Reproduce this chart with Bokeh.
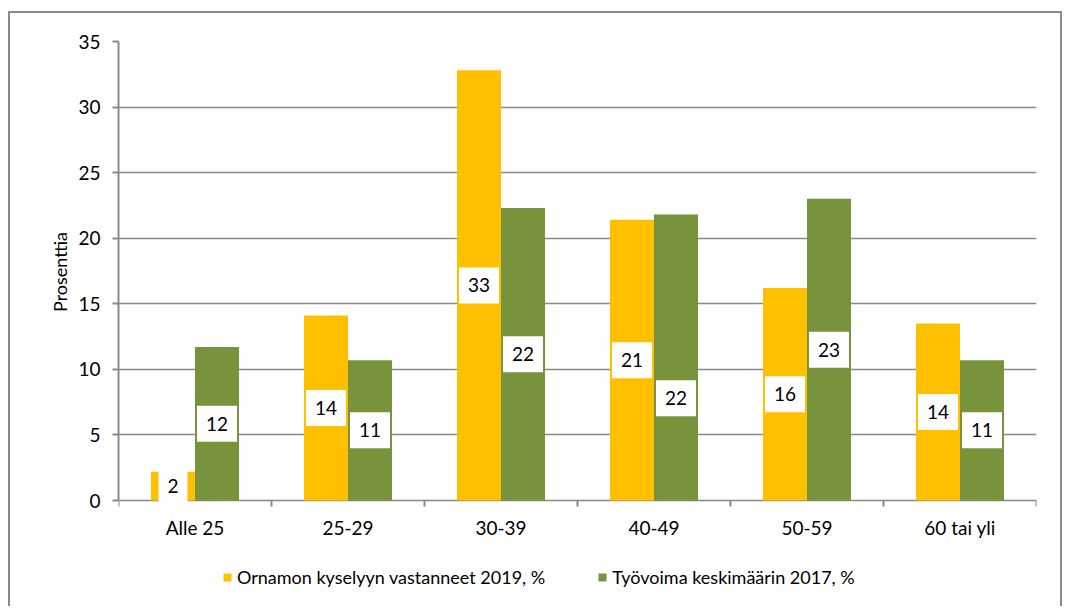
from bokeh.plotting import figure
from bokeh.models import ColumnDataSource, Range1d, FixedTicker, Legend, LegendItem, Title
from bokeh.transform import dodge
from bokeh.core.properties import value
from bokeh.embed import file_html
from bokeh.resources import INLINE

categories = ["Alle 25", "25-29", "30-39", "40-49", "50-59", "60 tai yli"]
ornamon_2019 = [2.2, 14.1, 32.8, 21.4, 16.2, 13.5]
tyovoima_2017 = [11.7, 10.7, 22.3, 21.8, 23.0, 10.7]
series_names = ["Ornamon kyselyyn vastanneet 2019, %", "Työvoima keskimäärin 2017, %"]
y_ticks = [0, 5, 10, 15, 20, 25, 30, 35]
y_label = "Prosenttia"

FONT = "Lato"
FS = "19px"
ORANGE = "#FFC000"
GREEN = "#77933C"
GRAY = "#898989"

# layout (pixels); CSS borders lie outside the figure's width/height
W, H = 1054, 595
CONTENT_H = H
LEFT, RIGHT, TOP = 108, 28, 28
PLOT_H = 459            # height of the 0..35 value band
Y_MAX = 35
px_per_unit = PLOT_H / Y_MAX
y_start = -(CONTENT_H - TOP - PLOT_H) / px_per_unit

# data-label positions: middle of each bar; when the two labels of a group
# would collide, the second one is moved just below the first (as Excel does)
BOX_PX = 38
a_pos = [v / 2 for v in ornamon_2019]
b_pos = []
for av, bv in zip(a_pos, [v / 2 for v in tyovoima_2017]):
    if abs(av - bv) * px_per_unit < 10:
        bv = av - BOX_PX / px_per_unit
    b_pos.append(bv)

xs = [i + 0.5 for i in range(len(categories))]
src = ColumnDataSource(dict(
    x=xs,
    cat=categories,
    a=ornamon_2019,
    b=tyovoima_2017,
    a_pos=a_pos,
    b_pos=b_pos,
    a_lbl=[str(int(round(v))) for v in ornamon_2019],
    b_lbl=[str(int(round(v))) for v in tyovoima_2017],
))
bounds = ColumnDataSource(dict(xb=list(range(len(categories) + 1))))

p = figure(width=W, height=H, output_backend="svg", toolbar_location=None,
           x_range=Range1d(0, len(categories)), y_range=Range1d(y_start, Y_MAX),
           x_axis_type=None, min_border_left=LEFT, min_border_right=RIGHT,
           min_border_top=TOP, min_border_bottom=0)
p.styles = {"border-left": "2px solid #8a8a8a", "border-right": "2px solid #8a8a8a",
            "border-top": "2px solid #8a8a8a", "margin-top": "11px", "margin-left": "8px"}
p.outline_line_color = None
p.background_fill_color = "white"
p.border_fill_color = "white"

# y grid (the line at 0 doubles as the category axis line)
p.ygrid.ticker = FixedTicker(ticks=y_ticks)
p.ygrid.grid_line_color = GRAY
p.ygrid.grid_line_width = 1.5
p.xgrid.visible = False

bw = 0.2876
off = bw / 2
r1 = p.vbar(x=dodge("x", -off), top="a", width=bw, source=src, fill_color=ORANGE, line_color=None)
r2 = p.vbar(x=dodge("x", off), top="b", width=bw, source=src, fill_color=GREEN, line_color=None)

for col, lcol, d in (("a_pos", "a_lbl", -off), ("b_pos", "b_lbl", off)):
    p.text(x=dodge("x", d), y=col, text=lcol, source=src, text_align="center",
           text_baseline="middle", text_font=value(FONT), text_font_size=FS,
           text_color="black", background_fill_color="white", padding=(9, 11))

# category axis: ticks at category boundaries, labels at centres
tick_len = 6 / px_per_unit
p.segment(x0="xb", y0=0, x1="xb", y1=-tick_len, source=bounds, line_color=GRAY, line_width=2)
p.text(x="x", y=0, text="cat", source=src, y_offset=27, text_align="center",
       text_baseline="middle", text_font=value(FONT), text_font_size=FS, text_color="black")

# y axis
yax = p.yaxis[0]
yax.ticker = FixedTicker(ticks=y_ticks)
yax.bounds = (0, Y_MAX)
yax.axis_line_color = GRAY
yax.axis_line_width = 2
yax.major_tick_line_color = GRAY
yax.major_tick_line_width = 2
yax.major_tick_out = 6
yax.major_tick_in = 0
yax.minor_tick_line_color = None
yax.major_label_standoff = 12
yax.major_label_text_font = FONT
yax.major_label_text_font_size = FS
yax.major_label_text_color = "black"

# y axis title, centred on the 0..35 band
frame_h = CONTENT_H - TOP
label_len = 82
offset = frame_h - PLOT_H / 2 - label_len / 2
p.add_layout(Title(text=y_label, align="left", offset=offset, standoff=10,
                   text_font=FONT, text_font_size="18px", text_font_style="normal",
                   text_color="black"), "left")

legend = Legend(items=[LegendItem(label=series_names[0], renderers=[r1]),
                       LegendItem(label=series_names[1], renderers=[r2])],
                orientation="horizontal", location=(104, 20),
                border_line_color=None, background_fill_alpha=0,
                padding=0, margin=0, spacing=52, label_standoff=5,
                glyph_width=10, glyph_height=10, label_height=20,
                label_text_font=FONT, label_text_font_size="18px",
                label_text_color="black")
p.add_layout(legend, "center")

open("out.html", "w").write(file_html(p, INLINE))
